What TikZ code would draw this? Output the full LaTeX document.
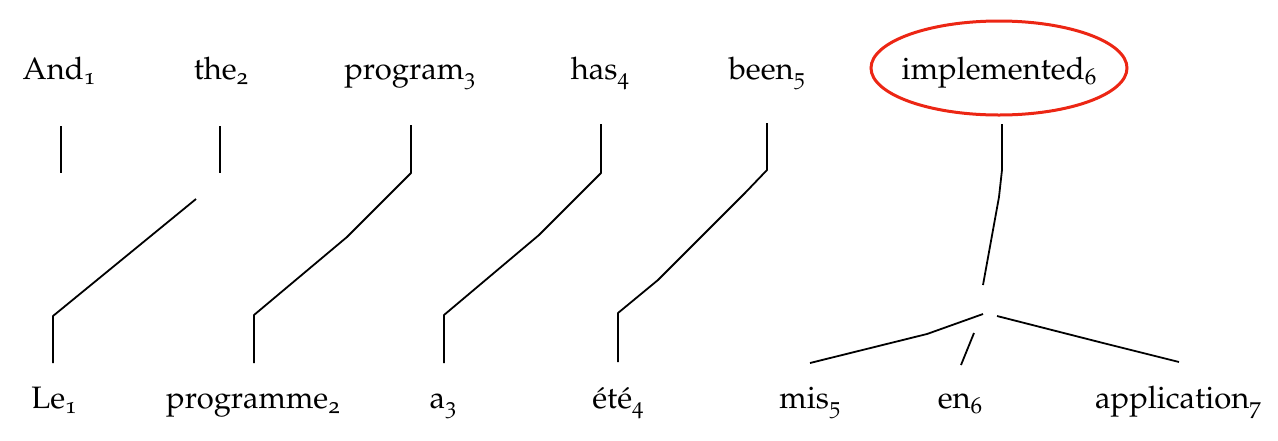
\documentclass[tikz,border=0pt]{standalone}
\usepackage[T1]{fontenc}
\usepackage[osf]{mathpazo}
\definecolor{circred}{RGB}{236,38,20}
\newcommand\ix[1]{\raisebox{-0.35ex}{\fontsize{23}{23}\selectfont #1}}
\begin{document}
\begin{tikzpicture}[x=1pt,y=-1pt,
  word/.style={anchor=base,inner sep=0pt,font=\fontsize{31}{35}\selectfont},
  link/.style={draw=black,line width=1.8pt,line join=round}]
\useasboundingbox (0,0) rectangle (1278,440);
% top words
\node[word] (and) at (59,79) {And\ix{1}};
\node[word] (the) at (221,79) {the\ix{2}};
\node[word] (program) at (410,79) {program\ix{3}};
\node[word] (has) at (600,79) {has\ix{4}};
\node[word] (been) at (767,79) {been\ix{5}};
\node[word] (impl) at (999,79) {implemented\ix{6}};
% bottom words
\node[word] (le) at (54,408) {Le\ix{1}};
\node[word] (programme) at (253,408) {programme\ix{2}};
\node[word] (a) at (443,408) {a\ix{3}};
\node[word] (ete) at (618,408) {\'et\'e\ix{4}};
\node[word] (mis) at (810,408) {mis\ix{5}};
\node[word] (en) at (960,408) {en\ix{6}};
\node[word] (app) at (1178,408) {application\ix{7}};
% highlight
\draw[circred,line width=3pt] (999,68) ellipse [x radius=128, y radius=47];
% connector end points
\coordinate (and1) at (61,126); \coordinate (and2) at (61,173);
\coordinate (the1) at (220,126); \coordinate (the2) at (220,173);
\coordinate (le1) at (196,199); \coordinate (le2) at (53,363);
\coordinate (pr1) at (411,125); \coordinate (pr2) at (254,363);
\coordinate (ha1) at (601,124); \coordinate (ha2) at (444,363);
\coordinate (be1) at (767,123); \coordinate (be2) at (618,362);
\coordinate (im1) at (1002,124); \coordinate (im2) at (983,285);
\coordinate (mi1) at (983,314); \coordinate (mi2) at (810,363);
\coordinate (en1) at (974,333); \coordinate (en2) at (961,365);
\coordinate (ap1) at (997,316); \coordinate (ap2) at (1179,362);
% connectors
\draw[link] (and1) -- (and2);
\draw[link] (the1) -- (the2);
\draw[link] (le1) -- (53,316) -- (le2);
\draw[link] (pr1) -- (411,173) -- (347,237) -- (254,315) -- (pr2);
\draw[link] (ha1) -- (601,173) -- (539,235) -- (444,315) -- (ha2);
\draw[link] (be1) -- (767,170) -- (745,193) -- (658,280) -- (618,313) -- (be2);
\draw[link] (im1) -- (1002,170) -- (999,197) -- (im2);
\draw[link] (mi1) -- (927,334) -- (mi2);
\draw[link] (en1) -- (en2);
\draw[link] (ap1) -- (1103,343) -- (ap2);
\end{tikzpicture}
\end{document}
